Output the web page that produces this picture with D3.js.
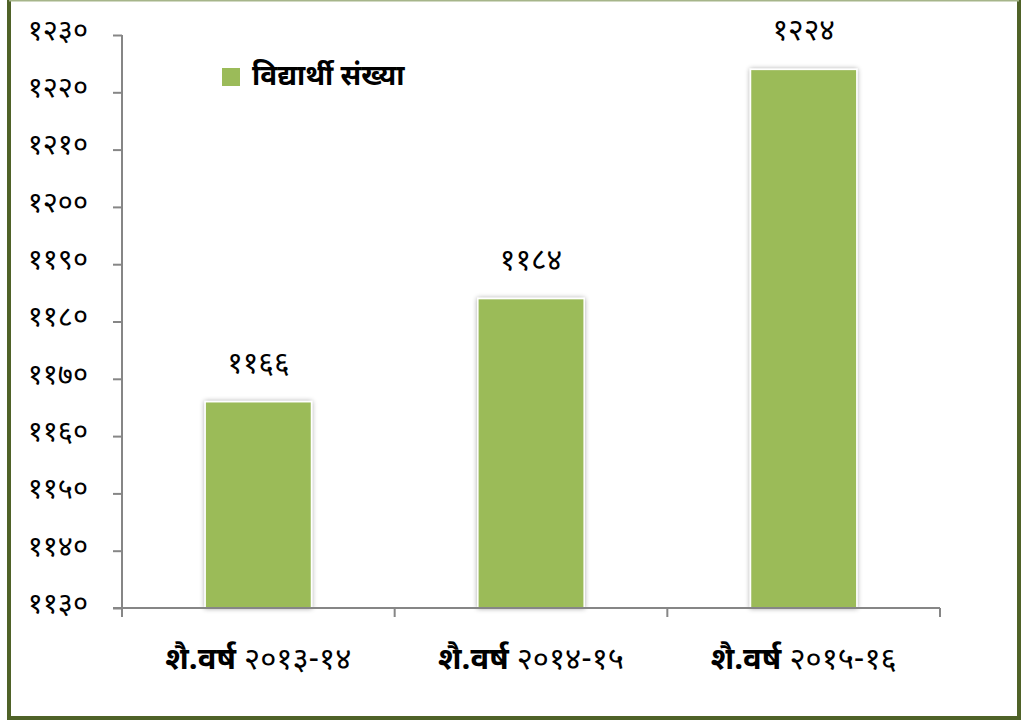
<!DOCTYPE html>
<html>
<head>
<meta charset="utf-8">
<script src="https://cdn.jsdelivr.net/npm/d3@7"></script>
<style>
  html, body { margin: 0; padding: 0; background: #fff; }
  svg { display: block; }
  text { font-family: "Noto Sans Devanagari", "Mangal", "Lohit Devanagari", "Noto Sans", "DejaVu Sans", sans-serif; }
</style>
</head>
<body>
<svg id="chart" width="1022" height="724"></svg>
<script>
const categoryPrefix = ["शै.वर्ष", "शै.वर्ष", "शै.वर्ष"];
const categoryYears = ["२०१३-१४", "२०१४-१५", "२०१५-१६"];
const categories = ["शै.वर्ष २०१३-१४", "शै.वर्ष २०१४-१५", "शै.वर्ष २०१५-१६"];
const values = [1166, 1184, 1224];
const valueLabels = ["११६६", "११८४", "१२२४"];
const yTicks = [1130, 1140, 1150, 1160, 1170, 1180, 1190, 1200, 1210, 1220, 1230];
const yTickLabels = ["११३०", "११४०", "११५०", "११६०", "११७०", "११८०", "११९०", "१२००", "१२१०", "१२२०", "१२३०"];
const seriesName = "विद्यार्थी संख्या";

(function () {
const svg = d3.select("#chart");
const barColor = "#9bbb59";
const axisColor = "#868686";

// frame
svg.append("rect").attr("x", 0).attr("y", 0).attr("width", 1022).attr("height", 724).attr("fill", "#fff");
svg.append("rect").attr("x", 9).attr("y", -2).attr("width", 1010).attr("height", 720)
  .attr("fill", "none").attr("stroke", "#4f6228").attr("stroke-width", 4);
svg.append("line").attr("x1", 9).attr("x2", 1019).attr("y1", 0.5).attr("y2", 0.5)
  .attr("stroke", "#a6b58a").attr("stroke-width", 2);

const pL = 122, pR = 940, pT = 35, pB = 608;
const x = d3.scaleBand().domain(categories).range([pL, pR]).paddingInner(0.61).paddingOuter(0.305);
const y = d3.scaleLinear().domain([1130, 1230]).range([pB, pT]);

// shadow filter
const defs = svg.append("defs");
const f = defs.append("filter").attr("id", "sh").attr("x", "-20%").attr("y", "-20%").attr("width", "140%").attr("height", "140%");
f.append("feGaussianBlur").attr("in", "SourceAlpha").attr("stdDeviation", 2.5).attr("result", "b");
f.append("feComponentTransfer").attr("in", "b").attr("result", "o2")
  .append("feFuncA").attr("type", "linear").attr("slope", 0.35);
const m = f.append("feMerge");
m.append("feMergeNode").attr("in", "o2");
m.append("feMergeNode").attr("in", "SourceGraphic");

// bars
svg.append("g").selectAll("rect").data(values).join("rect")
  .attr("x", (d, i) => x(categories[i]))
  .attr("width", x.bandwidth())
  .attr("y", d => y(d))
  .attr("height", d => y(1130) - y(d))
  .attr("fill", barColor)
  .attr("stroke", "#ffffff").attr("stroke-width", 1.5)
  .attr("filter", "url(#sh)");

// y axis
const yAxis = d3.axisLeft(y).tickValues(yTicks).tickFormat((d, i) => yTickLabels[i]).tickSize(9).tickPadding(25);
const gy = svg.append("g").attr("transform", `translate(${pL},0)`).call(yAxis);
gy.select(".domain").remove();
gy.selectAll(".tick line").attr("stroke", axisColor).attr("stroke-width", 2);
gy.selectAll(".tick text").attr("font-size", 29).attr("fill", "#000").attr("dy", "0.15em");
svg.append("line").attr("x1", pL).attr("x2", pL).attr("y1", y(1230)).attr("y2", pB + 9)
  .attr("stroke", axisColor).attr("stroke-width", 2);

// x axis
svg.append("line").attr("x1", pL - 9).attr("x2", pR).attr("y1", pB).attr("y2", pB)
  .attr("stroke", axisColor).attr("stroke-width", 2);
const bounds = categories.map(c => x(c) + x.bandwidth() + x.step() * 0.305);
svg.append("g").selectAll("line").data(bounds).join("line")
  .attr("x1", d => d).attr("x2", d => d).attr("y1", pB).attr("y2", pB + 9)
  .attr("stroke", axisColor).attr("stroke-width", 2);
const xl = svg.append("g").selectAll("text").data(categories).join("text")
  .attr("x", d => x(d) + x.bandwidth() / 2)
  .attr("y", 669)
  .attr("text-anchor", "middle")
  .attr("font-size", 31);
xl.append("tspan").attr("font-weight", "bold").text((d, i) => categoryPrefix[i] + " ");
xl.append("tspan").attr("font-weight", "normal").text((d, i) => categoryYears[i]);

// value labels
svg.append("g").selectAll("text").data(values).join("text")
  .attr("x", (d, i) => x(categories[i]) + x.bandwidth() / 2)
  .attr("y", d => y(d) - 29)
  .attr("text-anchor", "middle")
  .attr("font-size", 30)
  .text((d, i) => valueLabels[i]);

// legend
svg.append("rect").attr("x", 222).attr("y", 68).attr("width", 18).attr("height", 18).attr("fill", barColor);
svg.append("text").attr("x", 252).attr("y", 85).attr("font-size", 28).attr("font-weight", "bold").text(seriesName);
})();
</script>
</body>
</html>
